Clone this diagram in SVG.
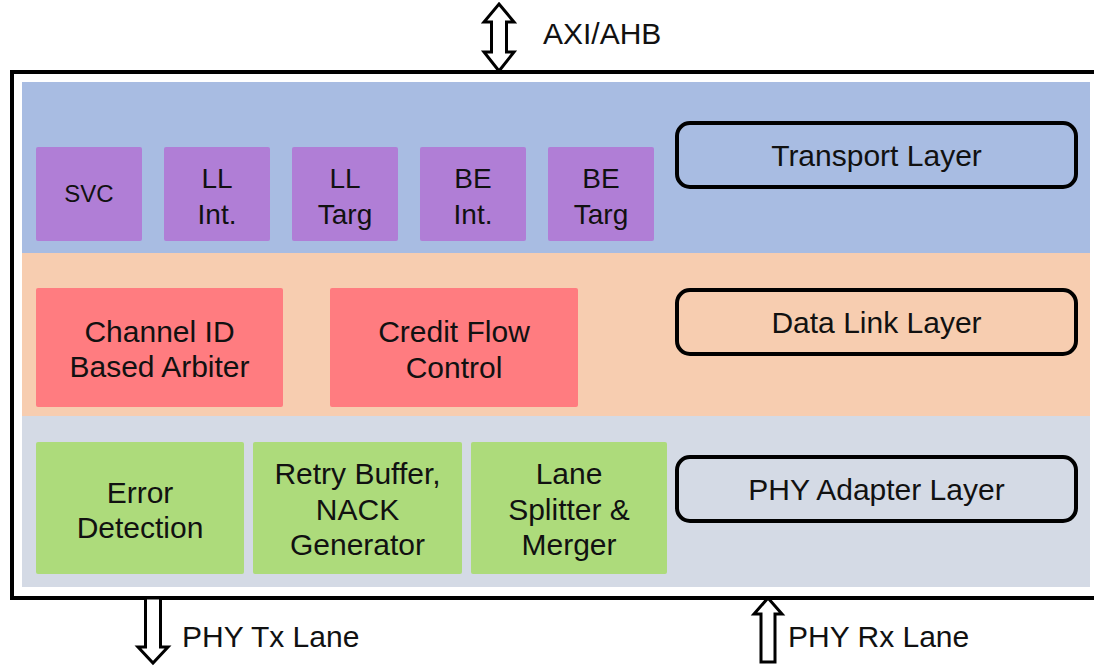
<svg xmlns="http://www.w3.org/2000/svg" width="1094" height="666" viewBox="0 0 1094 666">
  <style>
    text { font-family: "Liberation Sans", Arial, sans-serif; fill: #111; text-anchor: middle; }
    .t30 { font-size: 30px; }
    .t28 { font-size: 28px; }
    .t24 { font-size: 24px; }
    .lbl { text-anchor: start; font-size: 30px; }
    .purple { fill: #B07ED6; }
    .red { fill: #FF7C80; }
    .green { fill: #ADDB7B; }
    .layer { fill: none; stroke: #000; stroke-width: 4; }
    .arrow { fill: #fff; stroke: #000; stroke-width: 3; stroke-linejoin: miter; }
  </style>

  <rect width="1094" height="666" fill="#fff"/>

  <!-- layer bands -->
  <g id="bands">
    <rect x="22" y="82" width="1068" height="171" fill="#A8BCE2"/>
    <rect x="22" y="253" width="1068" height="163" fill="#F7CDB0"/>
    <rect x="22" y="416" width="1068" height="171" fill="#D4DAE5"/>
  </g>

  <!-- outer frame (open on the right edge) -->
  <rect id="frame" x="12" y="72" width="1100" height="526" fill="none" stroke="#000" stroke-width="4"/>

  <!-- transport layer blocks -->
  <g id="svc">
    <rect class="purple" x="36" y="147" width="106" height="94" rx="2"/>
    <text class="t24" x="89" y="202">SVC</text>
  </g>
  <g id="ll-int">
    <rect class="purple" x="164" y="147" width="106" height="94" rx="2"/>
    <text class="t28" x="217" y="188">LL</text>
    <text class="t28" x="217" y="224">Int.</text>
  </g>
  <g id="ll-targ">
    <rect class="purple" x="292" y="147" width="106" height="94" rx="2"/>
    <text class="t28" x="345" y="188">LL</text>
    <text class="t28" x="345" y="224">Targ</text>
  </g>
  <g id="be-int">
    <rect class="purple" x="420" y="147" width="106" height="94" rx="2"/>
    <text class="t28" x="473" y="188">BE</text>
    <text class="t28" x="473" y="224">Int.</text>
  </g>
  <g id="be-targ">
    <rect class="purple" x="548" y="147" width="106" height="94" rx="2"/>
    <text class="t28" x="601" y="188">BE</text>
    <text class="t28" x="601" y="224">Targ</text>
  </g>
  <g id="transport-layer">
    <rect class="layer" x="677" y="123" width="399" height="64" rx="13"/>
    <text class="t30" x="876.5" y="166">Transport Layer</text>
  </g>

  <!-- data link layer blocks -->
  <g id="arbiter">
    <rect class="red" x="36" y="288" width="247" height="119" rx="2"/>
    <text class="t30" x="159.5" y="342">Channel ID</text>
    <text class="t30" x="159.5" y="377">Based Arbiter</text>
  </g>
  <g id="credit-flow">
    <rect class="red" x="330" y="288" width="248" height="119" rx="2"/>
    <text class="t30" x="454" y="342">Credit Flow</text>
    <text class="t30" x="454" y="378">Control</text>
  </g>
  <g id="data-link-layer">
    <rect class="layer" x="677" y="290" width="399" height="64" rx="13"/>
    <text class="t30" x="876.5" y="333">Data Link Layer</text>
  </g>

  <!-- PHY adapter layer blocks -->
  <g id="error-detection">
    <rect class="green" x="36" y="442" width="208" height="132" rx="2"/>
    <text class="t30" x="140" y="503">Error</text>
    <text class="t30" x="140" y="538">Detection</text>
  </g>
  <g id="retry-buffer">
    <rect class="green" x="253" y="442" width="209" height="132" rx="2"/>
    <text class="t30" x="357.5" y="484">Retry Buffer,</text>
    <text class="t30" x="357.5" y="520">NACK</text>
    <text class="t30" x="357.5" y="555">Generator</text>
  </g>
  <g id="lane-splitter">
    <rect class="green" x="471" y="442" width="196" height="132" rx="2"/>
    <text class="t30" x="569" y="484">Lane</text>
    <text class="t30" x="569" y="520">Splitter &amp;</text>
    <text class="t30" x="569" y="555">Merger</text>
  </g>
  <g id="phy-adapter-layer">
    <rect class="layer" x="677" y="457" width="399" height="64" rx="13"/>
    <text class="t30" x="876.5" y="500">PHY Adapter Layer</text>
  </g>

  <!-- interface arrows -->
  <g id="connectors">
    <path class="arrow" d="M499,4 L514,22 L506.5,22 L506.5,52 L514,52 L499,71 L484,52 L491.5,52 L491.5,22 L484,22 Z"/>
    <path class="arrow" d="M145.5,598 L160.5,598 L160.5,647 L168,647 L153,663 L138,647 L145.5,647 Z"/>
    <path class="arrow" d="M768,598 L782,614 L775,614 L775,662 L761,662 L761,614 L754,614 Z"/>
  </g>

  <!-- interface labels -->
  <g id="labels">
    <text class="lbl" x="543" y="44">AXI/AHB</text>
    <text class="lbl" x="182" y="647">PHY Tx Lane</text>
    <text class="lbl" x="788" y="647">PHY Rx Lane</text>
  </g>
</svg>
